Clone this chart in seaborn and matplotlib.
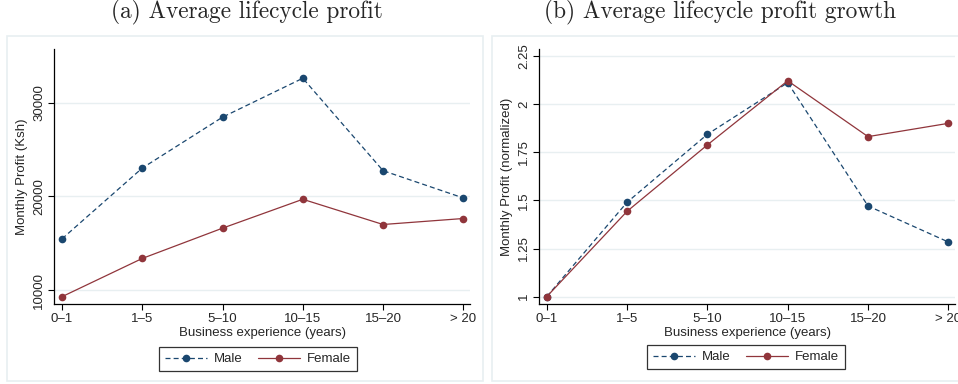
import matplotlib
matplotlib.use("Agg")
import matplotlib.pyplot as plt
import seaborn as sns
import pandas as pd
from matplotlib.patches import Rectangle
from matplotlib.lines import Line2D

categories = ["0\u20131", "1\u20135", "5\u201310", "10\u201315", "15\u201320", "> 20"]
male_profit = [15460, 23010, 28440, 32590, 22730, 19820]
female_profit = [9290, 13370, 16600, 19680, 16990, 17630]
male_growth = [1.0, 1.490, 1.843, 2.111, 1.471, 1.284]
female_growth = [1.0, 1.443, 1.788, 2.121, 1.831, 1.900]
titles = ["(a) Average lifecycle profit", "(b) Average lifecycle profit growth"]
ylabels = ["Monthly Profit (Ksh)", "Monthly Profit (normalized)"]
xlabel = "Business experience (years)"
left_ticks = [10000, 20000, 30000]
right_ticks = [1, 1.25, 1.5, 1.75, 2, 2.25]
right_ticklabels = ["1", "1.25", "1.5", "1.75", "2", "2.25"]

sns.set_style("white")
plt.rcParams['font.family'] = ['Liberation Sans', 'DejaVu Sans']

NAVY = "#1a476f"
MAROON = "#90353b"
GRID = "#e8eff1"
FS = 9.5

fig = plt.figure(figsize=(9.58, 3.84), dpi=100)
W, H = 958, 384

def fx(px):
    return px / W

def fy(py):
    return 1 - py / H

for (x0, x1) in [(7, 483), (492, 965)]:
    r = Rectangle((fx(x0), fy(381)), fx(x1 - x0), (381 - 36) / H,
                  transform=fig.transFigure, facecolor="white",
                  edgecolor=GRID, linewidth=1.2, zorder=-5)
    fig.add_artist(r)

axes_px = [(54.3, 470), (539, 955)]
ylims = [(8510, 35710), (0.962, 2.286)]
data_sets = [(male_profit, female_profit), (male_growth, female_growth)]
legend_centers = [(258, 359), (746, 357)]
title_centers = [247, 720]
ylabel_x = [22, 507]

for i, ((x0, x1), (mv, fv)) in enumerate(zip(axes_px, data_sets)):
    aw = x1 - x0
    ax = fig.add_axes([fx(x0), fy(304), fx(aw), (304 - 49) / H])
    ax.set_zorder(2)
    ax.set_facecolor("none")
    df = pd.DataFrame({
        "exp": categories * 2,
        "val": list(mv) + list(fv),
        "sex": ["Male"] * 6 + ["Female"] * 6,
    })
    sns.lineplot(data=df, x="exp", y="val", hue="sex", style="sex",
                 palette={"Male": NAVY, "Female": MAROON},
                 dashes={"Male": (4, 2.5), "Female": ""},
                 markers={"Male": "o", "Female": "o"},
                 markersize=5.5, markeredgewidth=0, linewidth=0.9,
                 ax=ax, legend=False, sort=False, zorder=3)
    ax.set_ylim(*ylims[i])
    ax.set_xlim(-0.096, 5.083)
    if i == 0:
        ax.set_yticks(left_ticks)
        ax.set_yticklabels([str(t) for t in left_ticks])
    else:
        ax.set_yticks(right_ticks)
        ax.set_yticklabels(right_ticklabels)
    ax.grid(axis="y", color=GRID, linewidth=1.0, zorder=0)
    ax.grid(axis="x", visible=False)
    for s in ["top", "right"]:
        ax.spines[s].set_visible(False)
    for s in ["left", "bottom"]:
        ax.spines[s].set_color("black")
        ax.spines[s].set_linewidth(0.9)
    ax.tick_params(axis="both", which="major", direction="out", length=4.5,
                   width=0.8, color="black", labelsize=FS, pad=2,
                   left=True, bottom=True)
    for lab in ax.get_yticklabels():
        lab.set_rotation(90)
        lab.set_va("center")
    ax.set_xlabel(xlabel, fontsize=FS)
    ax.xaxis.set_label_coords(0.5, (304 - 333) / 255)
    ax.xaxis.label.set_va("center")
    ax.set_ylabel(ylabels[i], fontsize=FS)
    ax.yaxis.set_label_coords((ylabel_x[i] - x0) / aw, 0.5)
    ax.yaxis.label.set_va("center")
    fig.text(fx(title_centers[i]), fy(12), titles[i], ha="center", va="center",
             fontsize=16.8, family="cmr10")
    handles = [
        Line2D([], [], color=NAVY, linestyle=(0, (4, 2.5)), linewidth=0.9,
               marker="o", markersize=5.5, markeredgewidth=0),
        Line2D([], [], color=MAROON, linestyle="-", linewidth=0.9,
               marker="o", markersize=5.5, markeredgewidth=0),
    ]
    cx, cy = legend_centers[i]
    leg = ax.legend(handles, ["Male", "Female"], loc="center",
                    bbox_to_anchor=(fx(cx), fy(cy)), bbox_transform=fig.transFigure,
                    ncol=2, frameon=True, fancybox=False, edgecolor="black",
                    fontsize=FS, handlelength=3.2, columnspacing=1.2,
                    handletextpad=0.5, borderpad=0.45)
    leg.get_frame().set_linewidth(0.9)

fig.savefig("out.png", dpi=100)
